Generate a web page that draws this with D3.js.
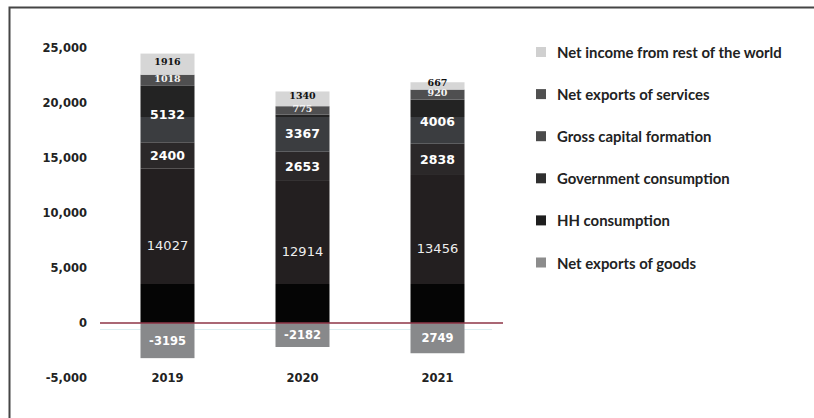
<!DOCTYPE html>
<html>
<head>
<meta charset="utf-8">
<script src="https://cdn.jsdelivr.net/npm/d3@7"></script>
<style>
  html, body { margin: 0; padding: 0; background: #fff; }
  svg { display: block; }
</style>
</head>
<body>
<svg id="chart" width="814" height="418"></svg>
<script>
// GDP by expenditure components, stacked by year
const years = ["2019", "2020", "2021"];
const hhConsumption = [14027, 12914, 13456];
const govConsumption = [2400, 2653, 2838];
const capitalFormation = [5132, 3367, 4006];
const servicesExports = [1018, 775, 920];
const netIncomeRow = [1916, 1340, 667];
const goodsExports = [-3195, -2182, -2749];
const goodsLabels = ["-3195", "-2182", "2749"];

const yTicks = [-5000, 0, 5000, 10000, 15000, 20000, 25000];
const yTickLabels = ["-5,000", "0", "5,000", "10,000", "15,000", "20,000", "25,000"];

const seriesNames = {
  hh: "HH consumption",
  gov: "Government consumption",
  gcf: "Gross capital formation",
  svc: "Net exports of services",
  inc: "Net income from rest of the world",
  goods: "Net exports of goods"
};

const rows = years.map((year, i) => ({
  year,
  hh: hhConsumption[i],
  gov: govConsumption[i],
  gcf: capitalFormation[i],
  svc: servicesExports[i],
  inc: netIncomeRow[i],
  goods: goodsExports[i]
}));

const stackKeys = ["hh", "gov", "gcf", "svc", "inc", "goods"];
const stacked = d3.stack().keys(stackKeys).offset(d3.stackOffsetDiverging)(rows);

const svg = d3.select("#chart");

// Scales
const x = d3.scaleBand().domain(years).range([100, 505]).paddingInner(0.6).paddingOuter(0.3);
const y = d3.scaleLinear().domain([-5000, 25000]).range([378, 48]);

// Shading thresholds used inside the darker segments
const HH_DARK_BAND = 3500;
const GCF_DARK_ABOVE = 18700;

const defs = svg.append("defs");
function bandGradient(id, lo, hi, split, below, above) {
  const g = defs.append("linearGradient")
    .attr("id", id)
    .attr("gradientUnits", "userSpaceOnUse")
    .attr("x1", 0).attr("x2", 0)
    .attr("y1", y(lo)).attr("y2", y(hi));
  const t = (split - lo) / (hi - lo);
  g.append("stop").attr("offset", 0).attr("stop-color", below);
  g.append("stop").attr("offset", t).attr("stop-color", below);
  g.append("stop").attr("offset", t).attr("stop-color", above);
  g.append("stop").attr("offset", 1).attr("stop-color", above);
}
bandGradient("hhFill", 0, 25000, HH_DARK_BAND, "#050505", "#231f20");
bandGradient("gcfFill", 0, 25000, GCF_DARK_ABOVE, "#3b3d40", "#232323");

const barFill = {
  hh: "url(#hhFill)",
  gov: "#2b2829",
  gcf: "url(#gcfFill)",
  svc: "#4f4f50",
  inc: "#d6d6d6",
  goods: "#88898b"
};

const legendFill = {
  inc: "#d0d0d0",
  svc: "#505050",
  gcf: "#4b4b4b",
  gov: "#2f2f2f",
  hh: "#1e1e1e",
  goods: "#8c8c8c"
};

const labelStyle = {
  hh:    { fill: "#eeeeee", family: "DejaVu Sans", weight: "normal", size: 13 },
  gov:   { fill: "#ffffff", family: "DejaVu Sans", weight: "bold", size: 12.5 },
  gcf:   { fill: "#ffffff", family: "DejaVu Sans", weight: "bold", size: 12.5 },
  svc:   { fill: "#f4f4f4", family: "DejaVu Serif", weight: "bold", size: 9.5 },
  inc:   { fill: "#111111", family: "DejaVu Serif", weight: "bold", size: 9.5 },
  goods: { fill: "#ffffff", family: "DejaVu Sans", weight: "bold", size: 11.5 }
};

// Frame
svg.append("path")
  .attr("d", "M9.5,418 V7.5 H814")
  .attr("fill", "none")
  .attr("stroke", "#454545")
  .attr("stroke-width", 2);

// Faint guide under the zero line
svg.append("line")
  .attr("x1", 100).attr("x2", 492)
  .attr("y1", y(0) + 6.5).attr("y2", y(0) + 6.5)
  .attr("stroke", "#dcedf0")
  .attr("stroke-width", 1);

// Bars
const layers = svg.append("g").selectAll("g")
  .data(stacked)
  .join("g")
  .attr("fill", d => barFill[d.key]);

layers.selectAll("rect")
  .data(d => d)
  .join("rect")
  .attr("x", d => x(d.data.year))
  .attr("width", x.bandwidth())
  .attr("y", d => y(Math.max(d[0], d[1])))
  .attr("height", d => Math.abs(y(d[0]) - y(d[1])));

// Segment value labels (services/income nudged up so thin segments stay readable)
const labelShift = { svc: -2, inc: -3 };
svg.append("g").selectAll("g")
  .data(stacked)
  .join("g")
  .each(function (layer) {
    const st = labelStyle[layer.key];
    d3.select(this).selectAll("text")
      .data(layer)
      .join("text")
      .attr("x", d => x(d.data.year) + x.bandwidth() / 2)
      .attr("y", d => y((d[0] + d[1]) / 2) + (labelShift[layer.key] || 0))
      .attr("text-anchor", "middle")
      .attr("dominant-baseline", "central")
      .attr("fill", st.fill)
      .attr("font-family", st.family)
      .attr("font-weight", st.weight)
      .attr("font-size", st.size)
      .text((d, i) => layer.key === "goods" ? goodsLabels[i] : d.data[layer.key]);
  });

// Zero line
svg.append("line")
  .attr("x1", 100).attr("x2", 503)
  .attr("y1", y(0)).attr("y2", y(0))
  .attr("stroke", "#8e3446")
  .attr("stroke-width", 1.3);

// Y axis (labels only)
const yAxis = svg.append("g")
  .attr("transform", "translate(90,0)")
  .call(d3.axisLeft(y).tickValues(yTicks).tickSize(0).tickPadding(3)
    .tickFormat((d, i) => yTickLabels[i]));
yAxis.select(".domain").remove();
yAxis.selectAll("text")
  .attr("font-family", "DejaVu Sans")
  .attr("font-weight", "bold")
  .attr("font-size", 11.5)
  .attr("fill", "#222");

// X axis (year labels), on the same row as the lowest tick label
const xAxis = svg.append("g")
  .attr("transform", `translate(0,${y(-5000)})`)
  .call(d3.axisBottom(x).tickSize(0).tickPadding(0));
xAxis.select(".domain").remove();
xAxis.selectAll("text")
  .attr("dy", "0.32em")
  .attr("font-family", "DejaVu Sans")
  .attr("font-weight", "bold")
  .attr("font-size", 11.5)
  .attr("fill", "#222");

// Legend
const legendOrder = ["inc", "svc", "gcf", "gov", "hh", "goods"];
const legend = svg.append("g").selectAll("g")
  .data(legendOrder)
  .join("g")
  .attr("transform", (d, i) => `translate(536,${52 + i * 42.1})`);
legend.append("rect")
  .attr("x", 0).attr("y", -5)
  .attr("width", 10).attr("height", 10)
  .attr("fill", d => legendFill[d]);
legend.append("text")
  .attr("x", 21)
  .attr("y", 0)
  .attr("dominant-baseline", "central")
  .attr("font-family", "Lato")
  .attr("font-weight", "bold")
  .attr("font-size", 14.9)
  .attr("fill", "#222")
  .text(d => seriesNames[d]);
</script>
</body>
</html>
